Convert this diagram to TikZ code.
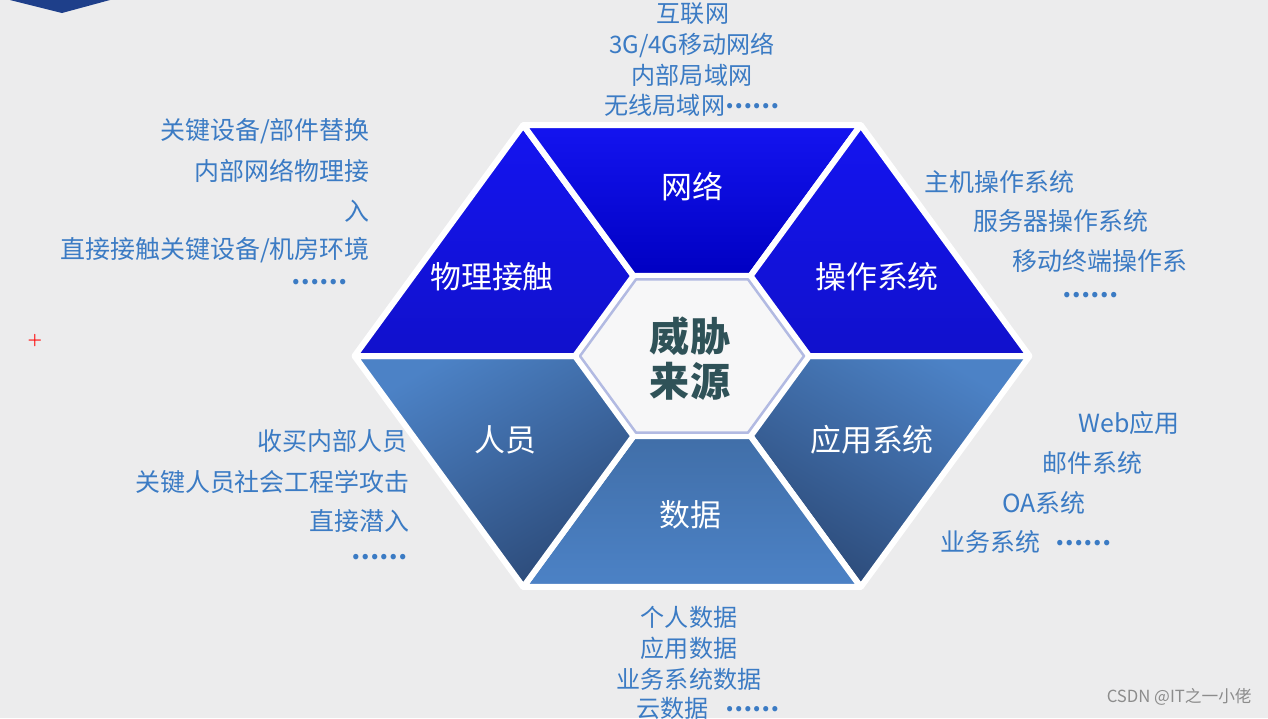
\documentclass[tikz,border=0pt]{standalone}
\usepackage{fontspec}
\newfontfamily\cjk{Noto Sans CJK SC}
\usetikzlibrary{positioning,calc}
\definecolor{cbg}{HTML}{ECECED}
\definecolor{cdeep}{HTML}{1414F0}
\definecolor{cdeepdk}{HTML}{0000C2}
\definecolor{csteel}{HTML}{4C82C6}
\definecolor{csteeldk}{HTML}{2C4A78}
\definecolor{ctext}{HTML}{3B7BC4}
\definecolor{ccore}{HTML}{2F5258}
\definecolor{cring}{HTML}{B2BAE2}
\definecolor{cmark}{HTML}{1E3F8A}
\newcommand{\hexdots}{\raisebox{0.25em}{\textbf{……}}}

\begin{document}
\begin{tikzpicture}[x=0.2mm, y=-0.2mm,
 seg/.style={draw=white, line width=1.2mm, line join=round},
 segnet/.style={seg, top color=cdeep, bottom color=cdeepdk},
 segside/.style={seg, top color=cdeep, bottom color=cdeep!85!black},
 segppl/.style={seg, top color=csteel, bottom color=csteeldk, shading angle=30},
 segapp/.style={seg, top color=csteel, bottom color=csteeldk, shading angle=-30},
 segdata/.style={seg, top color=csteel!85!black, bottom color=csteel},
 core/.style={fill=white!60!cbg, draw=cring, line width=0.5mm, line join=round},
 lbl/.style={text=ctext, inner sep=0pt, font={\cjk\fontsize{14.2pt}{17pt}\selectfont}},
 lbls/.style={lbl, font={\cjk\fontsize{13.7pt}{17pt}\selectfont}},
 tag/.style={text=white, inner sep=0pt, font={\cjk\fontsize{17.6pt}{21pt}\selectfont}},
]
 \useasboundingbox (0,0) rectangle (1268,718);
 \fill[cbg] (0,0) rectangle (1268,718);
 \fill[cmark] (10,0) -- (110,0) -- (62,13) -- cycle;

 \begin{scope}[shift={(692,356)}]
 \fill[white] (0:337.5 and 266.7) -- (60:337.5 and 266.7) -- (120:337.5 and 266.7)
 -- (180:337.5 and 266.7) -- (240:337.5 and 266.7) -- (300:337.5 and 266.7) -- cycle;
 \foreach \a/\sty in {0/segapp, 60/segdata, 120/segppl, 180/segside, 240/segnet, 300/segside}
 \path[\sty] (\a:337.5 and 266.7) -- (\a+60:337.5 and 266.7)
 -- (\a+60:117 and 92.5) -- (\a:117 and 92.5) -- cycle;
 \path[core] (0:112 and 88.5) -- (60:112 and 88.5) -- (120:112 and 88.5)
 -- (180:112 and 88.5) -- (240:112 and 88.5) -- (300:112 and 88.5) -- cycle;
 \end{scope}

 \node[tag] (PHY) at (492,277) {物理接触};
 \node[tag] (NET) at (692,187) {网络};
 \node[tag] (OS) at (877,277) {操作系统};
 \node[tag] (PPL) at (505,440) {人员};
 \node[tag] (APP) at (872,440) {应用系统};
 \node[tag] (DATA) at (690,515) {数据};
 \node[text=ccore, inner sep=0pt, align=center,
 font={\cjk\bfseries\fontsize{22.8pt}{25.6pt}\selectfont}] (CORE) at (690,359) {威胁\\来源};

 \node[lbls] (NET1) at (693,14) {互联网};
 \node[lbls] (NET2) at (692,45) {3G/4G移动网络};
 \node[lbls] (NET3) at (692,75) {内部局域网};
 \node[lbls] (NET4) at (692,105) {无线局域网\hexdots};

 \node[lbl, anchor=east] (PHY1) at (370,131) {关键设备/部件替换};
 \node[lbl, anchor=east] (PHY2) at (370,171) {内部网络物理接};
 \node[lbl, anchor=east] (PHY3) at (370,211) {入};
 \node[lbl, anchor=east] (PHY4) at (370,250) {直接接触关键设备/机房环境};
 \node[lbl, anchor=east] (PHY5) at (348,285) {\hexdots};

 \node[lbl, anchor=west] (OS1) at (924,182) {主机操作系统};
 \node[lbl, anchor=west] (OS2) at (973,221) {服务器操作系统};
 \node[lbl, anchor=west] (OS3) at (1012,261) {移动终端操作系};
 \node[lbl, anchor=west] (OS4) at (1062,298) {\hexdots};

 \node[lbl, anchor=east] (PPL1) at (408,441) {收买内部人员};
 \node[lbl, anchor=east] (PPL2) at (410,482) {关键人员社会工程学攻击};
 \node[lbl, anchor=east] (PPL3) at (410,521) {直接潜入};
 \node[lbl, anchor=east] (PPL4) at (408,560) {\hexdots};

 \node[lbl, anchor=west] (APP1) at (1078,423) {Web应用};
 \node[lbl, anchor=west] (APP2) at (1042,463) {邮件系统};
 \node[lbl, anchor=west] (APP3) at (1002,503) {OA系统};
 \node[lbl, anchor=west] (APP4) at (940,542) {业务系统\hspace{0.6em}\hexdots};

 \node[lbls] (DATA1) at (689,617) {个人数据};
 \node[lbls] (DATA2) at (689,648) {应用数据};
 \node[lbls] (DATA3) at (689,679) {业务系统数据};
 \node[lbls] (DATA4) at (708,708) {云数据\hspace{0.7em}\hexdots};

 \node[text=red, inner sep=0pt, font=\bfseries\small] (MARK) at (35,341) {+};
 \node[text=black!45, inner sep=0pt, anchor=east,
 font={\cjk\fontsize{9.5pt}{11pt}\selectfont}] (WM) at (1252,697) {CSDN @IT之一小佬};
\end{tikzpicture}
\end{document}
